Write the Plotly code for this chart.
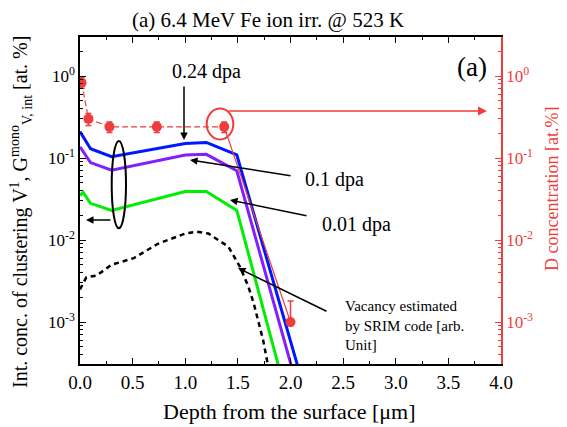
import plotly.graph_objects as go

# ---- data ----
depth_024 = [0.0, 0.1, 0.3, 1.0, 1.2, 1.49, 2.1]
conc_024 = [0.21, 0.13, 0.104, 0.15, 0.155, 0.109, 2.1e-4]

depth_01 = [0.0, 0.1, 0.3, 1.0, 1.2, 1.49, 2.05]
conc_01 = [0.137, 0.088, 0.071, 0.109, 0.111, 0.07, 1.87e-4]

depth_001 = [0.0, 0.03, 0.1, 0.3, 1.0, 1.2, 1.49, 1.93]
conc_001 = [0.035, 0.038, 0.028, 0.023, 0.039, 0.039, 0.023, 1.8e-4]

depth_srim = [0.0, 0.06, 0.16, 0.3, 0.51, 0.74, 1.0, 1.11, 1.22, 1.41, 1.52, 1.6, 1.65, 1.74, 1.775, 1.79]
vac_srim = [0.0025, 0.0035, 0.0037, 0.005, 0.006, 0.009, 0.012, 0.0126, 0.012, 0.0083, 0.0047, 0.0027,
            0.0017, 0.0006, 0.00035, 0.00028]

depth_D = [0.015, 0.08, 0.28, 0.73, 1.37, 2.0]
conc_D = [0.83, 0.30, 0.24, 0.24, 0.24, 0.001]
err_D_plus = [0.12, 0.05, 0.035, 0.035, 0.035, 0.0008]
err_D_minus = [0.12, 0.05, 0.035, 0.035, 0.035, 0.0001]

log_tickvals = [1e-3, 1e-2, 1e-1, 1.0]
log_ticktext = ["10<sup>-3</sup>", "10<sup>-2</sup>", "10<sup>-1</sup>", "10<sup>0</sup>"]
minor_vals = [m * 10.0 ** e for e in range(-4, 1) for m in range(2, 10)]

RED = "#f03c3c"
FONT = '"Liberation Serif", "Times New Roman", "DejaVu Serif", serif'

# page body has an 8 px margin; the figure is sized/positioned to compensate
OFF = 8
W, H = 567 - OFF, 427 - OFF
PL, PR, PT, PB = 80, 501, 37, 364   # plot area in window pixels

fig = go.Figure()

fig.add_trace(go.Scatter(x=depth_srim, y=vac_srim, mode="lines",
                         line=dict(color="black", width=2.5, dash="5px,4px"), showlegend=False))
fig.add_trace(go.Scatter(x=depth_001, y=conc_001, mode="lines",
                         line=dict(color="#00ee00", width=3), showlegend=False))
fig.add_trace(go.Scatter(x=depth_01, y=conc_01, mode="lines",
                         line=dict(color="#8020ff", width=3), showlegend=False))
fig.add_trace(go.Scatter(x=depth_024, y=conc_024, mode="lines",
                         line=dict(color="#0018ff", width=3), showlegend=False))

# D concentration (right axis)
fig.add_trace(go.Scatter(x=depth_D[:5], y=conc_D[:5], mode="lines", yaxis="y2",
                         line=dict(color=RED, width=1.2, dash="6px,3px"), showlegend=False))
fig.add_trace(go.Scatter(x=depth_D[4:], y=conc_D[4:], mode="lines", yaxis="y2",
                         line=dict(color=RED, width=1.2), showlegend=False))
fig.add_trace(go.Scatter(x=depth_D, y=conc_D, mode="markers", yaxis="y2",
                         marker=dict(color=RED, size=10),
                         error_y=dict(type="data", symmetric=False, array=err_D_plus,
                                      arrayminus=err_D_minus, color=RED, thickness=1.5, width=3),
                         showlegend=False))

def px2paper(px, py):
    return (px - PL) / float(PR - PL), (PB - py) / float(PB - PT)

annotations = []

def arrow(head, tail, color="black", width=1.5, size=1.0):
    hx, hy = px2paper(*head)
    annotations.append(dict(xref="paper", yref="paper", x=hx, y=hy, text="",
                            showarrow=True, axref="pixel", ayref="pixel",
                            ax=tail[0] - head[0], ay=tail[1] - head[1],
                            arrowhead=2, arrowsize=size, arrowwidth=width, arrowcolor=color))

def label(text, pos, size=18, color="black", xanchor="center", align="center", angle=0):
    x, y = px2paper(*pos)
    annotations.append(dict(xref="paper", yref="paper", x=x, y=y, text=text, showarrow=False,
                            xanchor=xanchor, yanchor="middle", align=align, textangle=angle,
                            font=dict(family=FONT, size=size, color=color)))

arrow((184, 140), (184, 85))
label("0.24 dpa", (206, 72), size=20)
arrow((190, 160), (292, 176))
label("0.1 dpa", (334, 179), size=20)
arrow((230, 200), (308, 216))
label("0.01 dpa", (356, 224), size=20)
arrow((238, 268), (328, 312))
label("Vacancy estimated<br>by SRIM code [arb.<br>Unit]", (343, 325), size=15, xanchor="left", align="left")
arrow((86, 220), (112, 220))
arrow((487, 111), (227, 111), color=RED, width=1.5, size=1.2)
label("(a)", (472, 67), size=27)

# axis titles
label("Int. conc. of clustering V<sup>1</sup>, G<sup>mono</sup><sub>V, int</sub> [at. %]", (21, 212),
      size=20, angle=-90)
label("D concentration [at.%]", (552, 189), size=18, color=RED, angle=-90)
label("Depth from the surface [μm]", (289, 411), size=22)

shapes = []
ex0, ey0 = px2paper(111.7, 228.3)
ex1, ey1 = px2paper(126, 141)
shapes.append(dict(type="circle", xref="paper", yref="paper", x0=ex0, y0=ey0, x1=ex1, y1=ey1,
                   line=dict(color="black", width=2)))
rx0, ry0 = px2paper(206.7, 139.5)
rx1, ry1 = px2paper(233.3, 108.5)
shapes.append(dict(type="circle", xref="paper", yref="paper", x0=rx0, y0=ry0, x1=rx1, y1=ry1,
                   line=dict(color=RED, width=2)))

yrange = [-3.512, 0.476]

fig.update_layout(
    width=W, height=H,
    margin=dict(l=PL - OFF, r=W - (PR - OFF), t=PT - OFF, b=H - (PB - OFF), autoexpand=False),
    paper_bgcolor="white", plot_bgcolor="white",
    font=dict(family=FONT, size=17, color="black"),
    title=dict(text="(a) 6.4 MeV Fe ion irr. @ 523 K", x=(268 - OFF) / W, xanchor="center",
               y=1 - (20 - OFF) / H, yanchor="middle", font=dict(family=FONT, size=21), automargin=False),
    xaxis=dict(range=[0, 4], dtick=0.5, tick0=0, tickformat=".1f", automargin=False,
               ticks="inside", ticklen=6, tickwidth=1.2, tickcolor="black",
               minor=dict(ticks="inside", ticklen=3, dtick=0.25, tickcolor="black"),
               showline=True, linecolor="black", linewidth=1.5, mirror="ticks",
               showgrid=False, zeroline=False,
               tickfont=dict(family=FONT, size=19)),
    yaxis=dict(type="log", range=yrange, tickmode="array", tickvals=log_tickvals, ticktext=log_ticktext,
               automargin=False,
               ticks="inside", ticklen=6, tickwidth=1.2, tickcolor="black",
               minor=dict(ticks="inside", ticklen=3, tickmode="array", tickvals=minor_vals, tickcolor="black"),
               showline=True, linecolor="black", linewidth=1.5, showgrid=False, zeroline=False,
               tickfont=dict(family=FONT, size=17)),
    yaxis2=dict(type="log", range=yrange, overlaying="y", side="right", tickmode="array",
                tickvals=log_tickvals, ticktext=log_ticktext, automargin=False,
                ticks="inside", ticklen=6, tickwidth=1.2, tickcolor=RED,
                minor=dict(ticks="inside", ticklen=3, tickmode="array", tickvals=minor_vals, tickcolor=RED),
                showline=True, linecolor=RED, linewidth=1.5, showgrid=False, zeroline=False,
                tickfont=dict(family=FONT, size=17, color=RED)),
    annotations=annotations,
    shapes=shapes,
)

fig.write_html("out.html")
